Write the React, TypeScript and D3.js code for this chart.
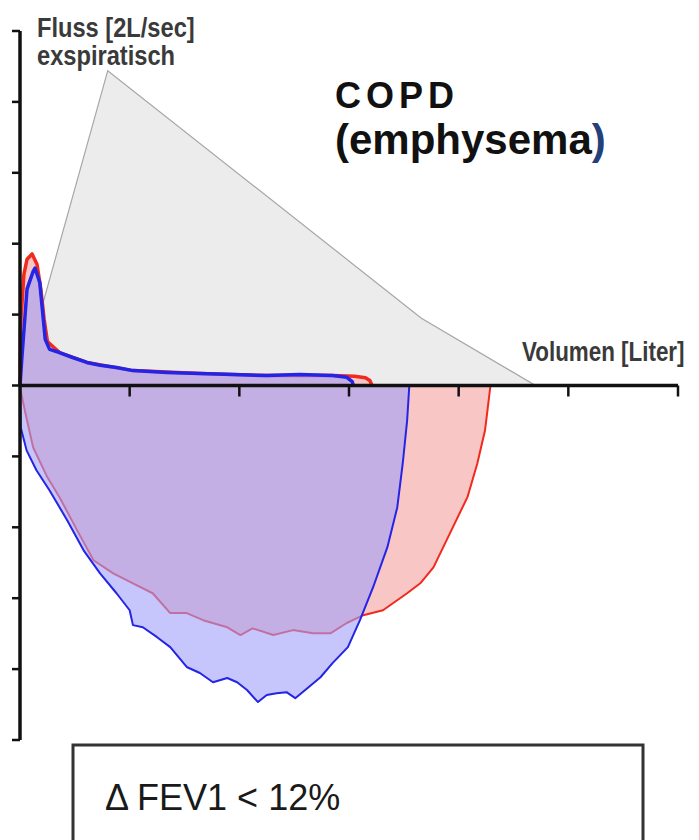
import React from "react";
import * as d3 from "d3";

// ---- data (volume in litres, flow in L/s) ----
const xTicks = [0, 1, 2, 3, 4, 5, 6];
const yTicks = [-10, -8, -6, -4, -2, 0, 2, 4, 6, 8, 10];

// predicted (grey) expiratory envelope
const refVolume = [0, 0.8, 3.66, 4.7];
const refFlow = [0, 8.88, 1.9, 0];

// blue (post) expiratory
const blueExpVolume = [0, 0.018, 0.064, 0.12, 0.137, 0.18, 0.21, 0.23, 0.27, 0.36, 0.48, 0.61, 0.73, 0.88, 1.03, 1.34, 1.64, 1.94, 2.25, 2.55, 2.85, 2.98, 3.03, 3.04];
const blueExpFlow = [0, 0.82, 2.72, 3.22, 3.31, 2.91, 1.95, 1.3, 1.02, 0.93, 0.79, 0.65, 0.57, 0.51, 0.42, 0.37, 0.34, 0.31, 0.28, 0.31, 0.28, 0.23, 0.11, 0];

// red (pre) expiratory
const redExpVolume = [0, 0.005, 0.01, 0.036, 0.064, 0.11, 0.155, 0.19, 0.22, 0.25, 0.36, 0.61, 1.03, 1.64, 2.25, 2.85, 3.05, 3.15, 3.19, 3.21];
const redExpFlow = [0, 1.58, 1.95, 3.14, 3.56, 3.71, 3.42, 2.72, 1.87, 1.24, 0.93, 0.65, 0.42, 0.34, 0.28, 0.28, 0.26, 0.22, 0.14, 0];

// blue inspiratory
const blueInsVolume = [0, 0.006, 0.06, 0.15, 0.27, 0.43, 0.58, 0.73, 0.88, 1.0, 1.03, 1.12, 1.25, 1.37, 1.52, 1.64, 1.76, 1.89, 1.98, 2.07, 2.17, 2.25, 2.34, 2.43, 2.51, 2.62, 2.74, 2.85, 2.99, 3.1, 3.22, 3.35, 3.44, 3.49, 3.53, 3.55];
const blueInsFlow = [0, -1.18, -1.83, -2.39, -2.96, -3.8, -4.65, -5.3, -5.86, -6.34, -6.76, -6.82, -7.1, -7.38, -7.94, -8.11, -8.37, -8.25, -8.37, -8.59, -8.93, -8.73, -8.68, -8.65, -8.82, -8.54, -8.23, -7.83, -7.38, -6.62, -5.69, -4.56, -3.44, -2.2, -0.99, 0];

// red inspiratory
const redInsVolume = [0, 0.006, 0.05, 0.12, 0.25, 0.36, 0.52, 0.67, 0.85, 1.03, 1.21, 1.37, 1.52, 1.67, 1.89, 2.01, 2.12, 2.31, 2.49, 2.67, 2.83, 2.98, 3.13, 3.31, 3.53, 3.65, 3.77, 3.92, 4.08, 4.17, 4.24, 4.27, 4.29];
const redInsFlow = [0, -0.14, -0.79, -1.75, -2.59, -3.15, -4.08, -4.93, -5.3, -5.58, -5.86, -6.42, -6.42, -6.62, -6.82, -7.04, -6.85, -7.04, -6.9, -6.99, -6.99, -6.7, -6.48, -6.34, -5.86, -5.58, -5.13, -4.17, -3.15, -2.2, -1.27, -0.51, 0];

const yAxisLabel1 = "Fluss [2L/sec]";
const yAxisLabel2 = "exspiratisch";
const xAxisLabel = "Volumen [Liter]";
const titleLine1 = "COPD";
const titleLine2 = "(emphysema";
const titleClose = ")";
const boxText = "\u0394 FEV1 < 12%";

type P = [number, number];
const zip = (a: number[], b: number[]): P[] => a.map((v, i) => [v, b[i]]);

export default function App() {
  const W = 699;
  const H = 840;
  const x = d3.scaleLinear().domain([0, 6]).range([20, 678]);
  const y = d3.scaleLinear().domain([-10, 10]).range([740, 31]);

  const line = d3
    .line<P>()
    .x((d) => x(d[0]))
    .y((d) => y(d[1]));
  const area = d3
    .area<P>()
    .x((d) => x(d[0]))
    .y0(y(0))
    .y1((d) => y(d[1]));

  const ref = zip(refVolume, refFlow);
  const bE = zip(blueExpVolume, blueExpFlow);
  const rE = zip(redExpVolume, redExpFlow);
  const bI = zip(blueInsVolume, blueInsFlow);
  const rI = zip(redInsVolume, redInsFlow);

  const redFill = "#f9c6c6";
  const blueFill = "rgba(160,160,250,0.6)";
  const redStroke = "#f02a1e";
  const blueStroke = "#2424e6";
  const labelFont = "'Liberation Sans', Arial, sans-serif";

  return (
    <svg
      width={W}
      height={H}
      style={{ position: "absolute", left: 0, top: 0, background: "#fff" }}
    >
      <rect x={0} y={0} width={W} height={H} fill="#fff" />
      {/* predicted envelope */}
      <path d={line(ref)! + "Z"} fill="#ececec" stroke="#a6a6a6" strokeWidth={1.2} />

      {/* red fills + lines */}
      <path d={area(rE)!} fill={redFill} />
      <path d={area(rI)!} fill={redFill} />
      <path d={line(rE)!} fill="none" stroke={redStroke} strokeWidth={3.5} strokeLinejoin="round" />
      <path d={line(rI)!} fill="none" stroke={redStroke} strokeWidth={2} strokeLinejoin="round" />

      {/* blue fills + lines */}
      <path d={area(bE)!} fill={blueFill} />
      <path d={area(bI)!} fill={blueFill} />
      <path d={line(bE)!} fill="none" stroke={blueStroke} strokeWidth={3.5} strokeLinejoin="round" />
      <path d={line(bI)!} fill="none" stroke={blueStroke} strokeWidth={2} strokeLinejoin="round" />

      {/* axes */}
      <line x1={x(0)} x2={x(6)} y1={y(0)} y2={y(0)} stroke="#111" strokeWidth={3.5} />
      <line x1={x(0)} x2={x(0)} y1={y(10)} y2={y(-10)} stroke="#111" strokeWidth={3.5} />
      {xTicks.slice(1).map((t) => (
        <line key={"xt" + t} x1={x(t)} x2={x(t)} y1={y(0)} y2={y(0) + 11} stroke="#111" strokeWidth={2.5} />
      ))}
      {yTicks.map((t) => (
        <line key={"yt" + t} x1={x(0) - 8} x2={x(0)} y1={y(t)} y2={y(t)} stroke="#111" strokeWidth={2.5} />
      ))}

      {/* axis labels (condensed) */}
      <g fill="#3a3a3a" fontFamily={labelFont} fontWeight="bold" fontSize={28}>
        <text transform="translate(37,37) scale(0.845,1)">{yAxisLabel1}</text>
        <text transform="translate(37,65) scale(0.845,1)">{yAxisLabel2}</text>
        <text transform="translate(522,361) scale(0.8,1)">{xAxisLabel}</text>
      </g>

      {/* title */}
      <g fill="#111" fontFamily={labelFont} fontWeight="bold">
        <text x={335} y={108} fontSize={36} letterSpacing={5}>
          {titleLine1}
        </text>
        <text x={335} y={154} fontSize={42}>
          {titleLine2}
          <tspan fill="#24407a">{titleClose}</tspan>
        </text>
      </g>

      {/* FEV1 box */}
      <rect x={73} y={745} width={570} height={97} fill="#fff" stroke="#333" strokeWidth={3} />
      <text x={105} y={810} fontFamily={labelFont} fontSize={36} fill="#1a1a1a">
        {boxText}
      </text>
    </svg>
  );
}
